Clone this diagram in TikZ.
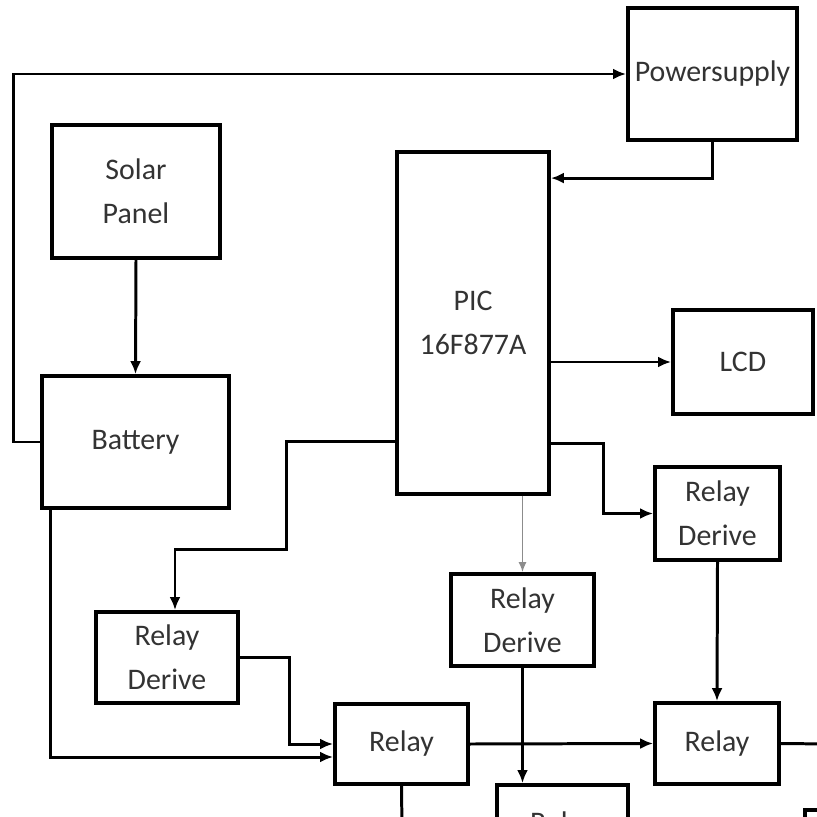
\documentclass[tikz,border=0pt]{standalone}
\usepackage{fontspec}
\setmainfont{Carlito}
\usetikzlibrary{arrows.meta}
\tikzset{
  blk/.style={rectangle,draw,line width=2.2pt,inner sep=0pt,align=center,text=black!80,font=\fontsize{17}{25}\selectfont},
  wire/.style={line width=1.7pt},
  arr/.style={wire,-{Latex[length=0.26cm,width=0.22cm]}},
}
\begin{document}
\begin{tikzpicture}[x=0.02cm,y=-0.02cm]
\useasboundingbox (0,0) rectangle (817,817);
\clip (0,0) rectangle (817,817);
\node (PS) at (712.5,74) [blk,minimum width=3.38cm,minimum height=2.64cm] {Powersupply};
\node (SP) at (136,191.5) [blk,minimum width=3.36cm,minimum height=2.66cm] {Solar\\ Panel};
\node (BAT) at (135.5,442) [blk,minimum width=3.74cm,minimum height=2.64cm] {Battery};
\node (PIC) at (473,323) [blk,minimum width=3.04cm,minimum height=6.84cm] {PIC\\ 16F877A};
\node (LCD) at (743,362) [blk,minimum width=2.8cm,minimum height=2.08cm] {LCD};
\node (RDR) at (717.5,513.5) [blk,minimum width=2.5cm,minimum height=1.86cm] {Relay\\ Derive};
\node (RDM) at (522.5,620) [blk,minimum width=2.86cm,minimum height=1.84cm] {Relay\\ Derive};
\node (RDL) at (167,657.5) [blk,minimum width=2.84cm,minimum height=1.82cm] {Relay\\ Derive};
\node (RL) at (401.5,744) [blk,minimum width=2.66cm,minimum height=1.6cm] {Relay};
\node (RR) at (717,743.5) [blk,minimum width=2.48cm,minimum height=1.62cm] {Relay};
\node (RB) at (562.5,825) [blk,minimum width=2.62cm,minimum height=1.6cm] {Relay};
\node (BR) at (870,850) [blk,minimum width=2.6cm,minimum height=1.6cm] {};
\coordinate (RRout) at (830,744);
\coordinate (RLout) at (402,830);
% power loop
\draw[arr] (BAT.west) -- ++(-27,0) |- (PS.west);
\draw[arr] (SP.south) -- (BAT.north);
\draw[arr] (PS.south) |- ([yshift=-0.56cm]PIC.north east);
% controller outputs
\draw[arr] (PIC.east |- LCD.west) -- (LCD.west);
\draw[arr] ([yshift=1.08cm]PIC.south west) -- ++(-109,0) -- ++(0,108) -| ([xshift=0.16cm]RDL.north);
\draw[arr] ([yshift=1.04cm]PIC.south east) -- ++(53,0) |- (RDR.west);
\draw[-{Latex[length=0.2cm,width=0.16cm]},line width=0.8pt,black!45] (PIC.south -| RDM.north) -- (RDM.north);
% relays
\draw[arr] (RDL.east) -- ++(50,0) |- (RL.west);
\draw[arr] ([xshift=0.2cm]BAT.south west) |- ([yshift=-0.26cm]RL.west);
\draw[arr] (RL.east) -- (RR.west);
\draw[arr] (RDR.south) -- (RR.north);
\draw[arr] (RDM.south) -- (RDM.south |- RB.north);
\draw[wire] (RR.east) -- (RRout);
\draw[wire] (RL.south) -- (RLout);
\end{tikzpicture}
\end{document}
